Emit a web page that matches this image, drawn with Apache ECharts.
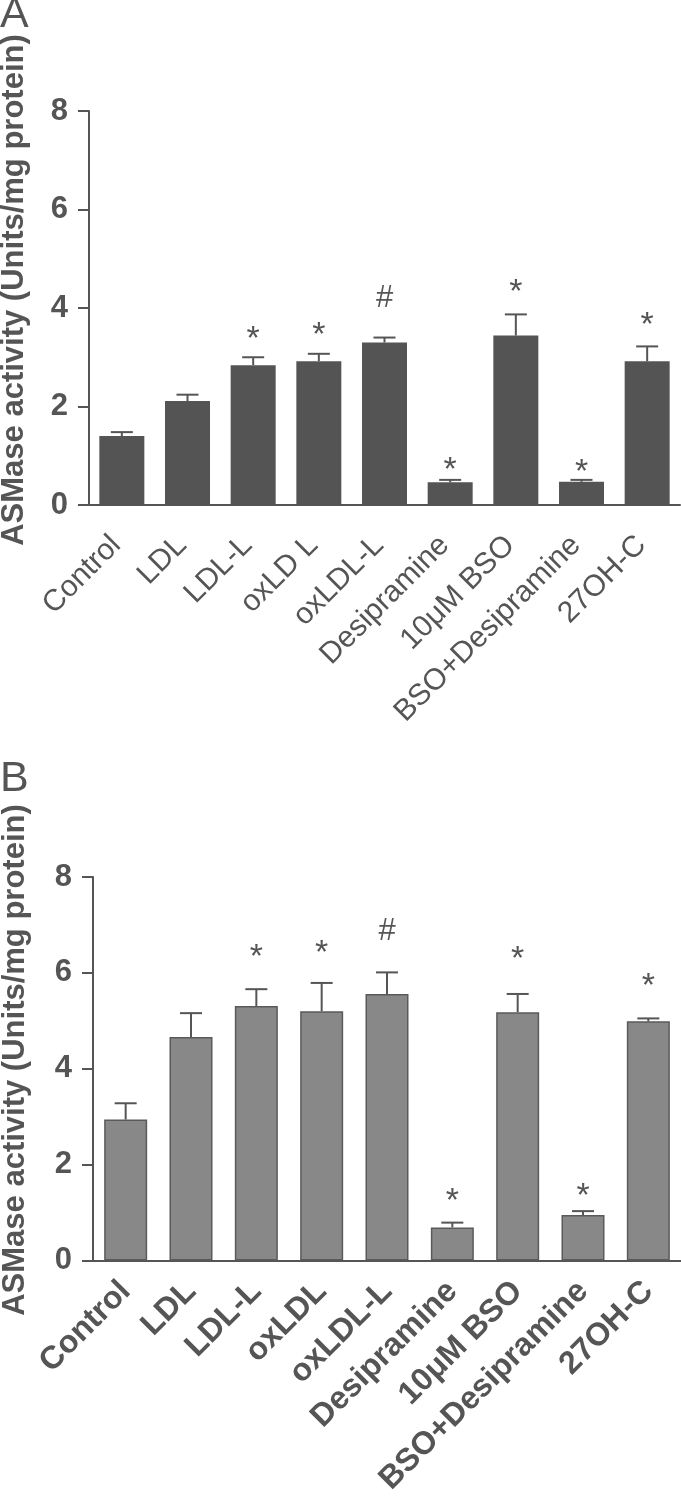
<!DOCTYPE html>
<html><head><meta charset="utf-8">
<script src="https://cdn.jsdelivr.net/npm/echarts@6/dist/echarts.min.js"></script>
<style>html,body{margin:0;padding:0;background:#fff}#c{width:681px;height:1498px}</style>
</head><body><div id="c"></div>
<script>
const categoriesA = ['Control','LDL','LDL-L','oxLD L','oxLDL-L','Desipramine','10\u03bcM BSO','BSO+Desipramine','27OH-C'];
const categoriesB = ['Control','LDL','LDL-L','oxLDL','oxLDL-L','Desipramine','10\u03bcM BSO','BSO+Desipramine','27OH-C'];
const valuesA = [1.40, 2.11, 2.84, 2.92, 3.30, 0.46, 3.44, 0.47, 2.92];
const errorsA = [0.08, 0.13, 0.16, 0.15, 0.10, 0.05, 0.43, 0.04, 0.30];
const valuesB = [2.94, 4.66, 5.31, 5.20, 5.56, 0.69, 5.18, 0.95, 4.99];
const errorsB = [0.34, 0.50, 0.35, 0.59, 0.45, 0.10, 0.38, 0.08, 0.06];
const marksA = ['', '', '*', '*', '#', '*', '*', '*', '*'];
const markHeightsA = [null, null, 3.51, 3.60, 4.20, 0.85, 4.46, 0.81, 3.79];
const marksB = ['', '', '*', '*', '#', '*', '*', '*', '*'];
const markHeightsB = [null, null, 6.47, 6.56, 6.86, 1.39, 6.43, 1.49, 5.87];
const yMin = 0, yMax = 8, yStep = 2;
const yTitle = 'ASMase activity (Units/mg protein)';
const panelLetters = ['A', 'B'];

const FONT = '"Liberation Sans", Arial, Helvetica, sans-serif';
const GRAY = '#555555';

function errRender(params, api) {
  const i = api.value(0), v = api.value(1), e = api.value(2);
  const b = api.coord([i, v]);
  const t = api.coord([i, v + e]);
  const hw = 11;
  const st = { stroke: GRAY, lineWidth: 2 };
  return { type: 'group', children: [
    { type: 'line', shape: { x1: b[0], y1: b[1], x2: t[0], y2: t[1] }, style: st },
    { type: 'line', shape: { x1: t[0] - hw, y1: t[1], x2: t[0] + hw, y2: t[1] }, style: st }
  ]};
}
function markRender(marks) {
  return function (params, api) {
    const i = api.value(0), h = api.value(1);
    const txt = marks[i];
    if (!txt) return null;
    const p = api.coord([i, h]);
    const isStar = txt === '*';
    const fs = isStar ? 34 : 31;
    return { type: 'text', x: p[0], y: p[1] + (isStar ? fs * 0.22 : 0),
      style: { text: txt, fill: GRAY, font: fs + 'px ' + FONT, align: 'center', verticalAlign: 'middle' } };
  };
}
function idx(arr) { return arr.map((v, i) => [i, v]); }

function yAxisCfg(gi) {
  return { type: 'value', gridIndex: gi, min: yMin, max: yMax, interval: yStep,
    splitLine: { show: false },
    axisLine: { show: true, lineStyle: { color: GRAY, width: 2 } },
    axisTick: { show: true, length: 11, lineStyle: { color: GRAY, width: 2 } },
    axisLabel: { color: GRAY, fontFamily: FONT, fontWeight: 'bold', fontSize: 31, margin: 21 } };
}
function xAxisCfg(gi, cats, bold, fs, mg, padR) {
  return { type: 'category', gridIndex: gi, data: cats,
    axisLine: { show: true, lineStyle: { color: GRAY, width: 2 } },
    axisTick: { show: false },
    axisLabel: { interval: 0, rotate: 45, color: GRAY, fontFamily: FONT, fontWeight: bold ? 'bold' : 'normal', fontSize: fs, margin: mg, padding: [0, padR, 0, 0], hideOverlap: false } };
}

const chart = echarts.init(document.getElementById('c'), null, { renderer: 'canvas' });
chart.setOption({
  backgroundColor: '#ffffff',
  animation: false,
  grid: [
    { left: 89, top: 111, width: 591, height: 394 },
    { left: 93, top: 877, width: 588, height: 388 }
  ],
  xAxis: [xAxisCfg(0, categoriesA, false, 30, 30, 8), xAxisCfg(1, categoriesB, true, 32, 26, 0)],
  yAxis: [yAxisCfg(0), yAxisCfg(1)],
  graphic: [
    { type: 'text', x: 0, y: -6, style: { text: panelLetters[0], font: '43px ' + FONT, fill: GRAY, align: 'left', verticalAlign: 'top' } },
    { type: 'text', x: 0, y: 758, style: { text: panelLetters[1], font: '43px ' + FONT, fill: GRAY, align: 'left', verticalAlign: 'top' } },
    { type: 'text', x: 14, y: 290, rotation: Math.PI / 2, style: { text: yTitle, font: 'bold 31px ' + FONT, fill: GRAY, align: 'center', verticalAlign: 'middle' } },
    { type: 'text', x: 15, y: 1060, rotation: Math.PI / 2, style: { text: yTitle, font: 'bold 31px ' + FONT, fill: GRAY, align: 'center', verticalAlign: 'middle' } }
  ],
  series: [
    { type: 'bar', xAxisIndex: 0, yAxisIndex: 0, data: valuesA, barWidth: 45,
      itemStyle: { color: '#545454' }, z: 2 },
    { type: 'custom', xAxisIndex: 0, yAxisIndex: 0, renderItem: errRender,
      data: valuesA.map((v, i) => [i, v, errorsA[i]]), z: 3 },
    { type: 'custom', xAxisIndex: 0, yAxisIndex: 0, renderItem: markRender(marksA),
      data: idx(markHeightsA).filter(d => d[1] !== null), z: 4 },
    { type: 'bar', xAxisIndex: 1, yAxisIndex: 1, data: valuesB, barWidth: 43,
      itemStyle: { color: '#888888', borderColor: '#5a5a5a', borderWidth: 1.5 }, z: 2 },
    { type: 'custom', xAxisIndex: 1, yAxisIndex: 1, renderItem: errRender,
      data: valuesB.map((v, i) => [i, v, errorsB[i]]), z: 3 },
    { type: 'custom', xAxisIndex: 1, yAxisIndex: 1, renderItem: markRender(marksB),
      data: idx(markHeightsB).filter(d => d[1] !== null), z: 4 }
  ]
});
</script>
</body></html>
